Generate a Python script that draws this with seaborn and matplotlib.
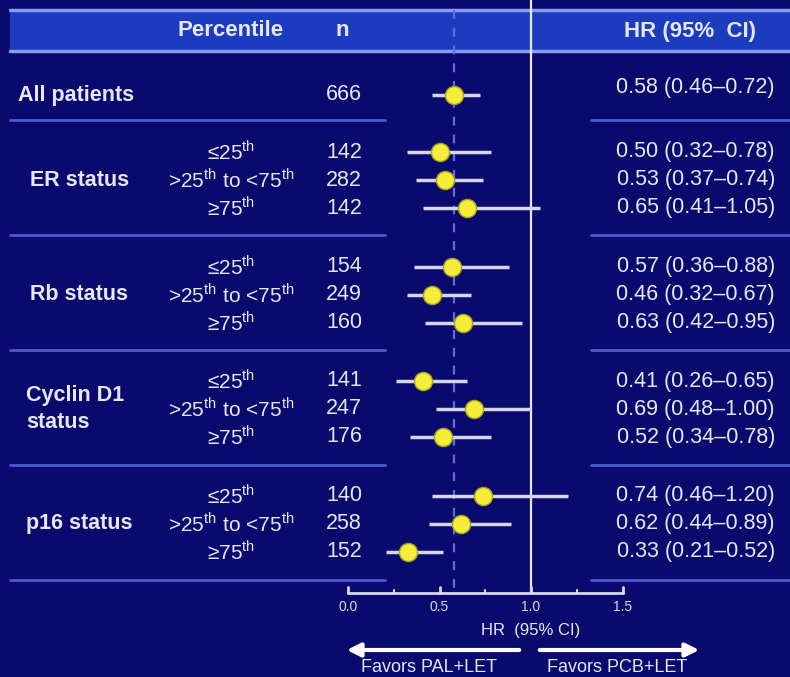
import pandas as pd
import matplotlib.pyplot as plt
import seaborn as sns
from matplotlib.transforms import blended_transform_factory

# data
groups = ["All patients", "ER status", "Rb status", "Cyclin D1\nstatus", "p16 status"]
percentiles = ["", "≤25", ">25 to <75", "≥75"]
n_vals = [666, 142, 282, 142, 154, 249, 160, 141, 247, 176, 140, 258, 152]
hr = [0.58, 0.50, 0.53, 0.65, 0.57, 0.46, 0.63, 0.41, 0.69, 0.52, 0.74, 0.62, 0.33]
lo = [0.46, 0.32, 0.37, 0.41, 0.36, 0.32, 0.42, 0.26, 0.48, 0.34, 0.46, 0.44, 0.21]
hi = [0.72, 0.78, 0.74, 1.05, 0.88, 0.67, 0.95, 0.65, 1.00, 0.78, 1.20, 0.89, 0.52]
ticks = [0.0, 0.5, 1.0, 1.5]
minor_ticks = [0.25, 0.75, 1.25]

W, H = 790, 677
BG = "#0a0a6e"
BAND = "#1c3cc0"
BAND_LINE = "#8a9cf0"
SEP = "#4a5ad0"
TXT = "#e6e8fa"

sns.set_theme(style="white")
plt.rcParams["font.family"] = ["Liberation Sans", "DejaVu Sans"]
plt.rcParams["mathtext.fontset"] = "custom"
plt.rcParams["mathtext.rm"] = "Liberation Sans"

# row layout (pixel-like y units, top = 0)
row_y = [95]
for g in range(4):
    base = 152 + g * 114.5
    row_y += [base, base + 28, base + 56]
sep_y = [120, 235, 350, 465, 580]
axis_y = 593

df = pd.DataFrame({"hr": hr, "lo": lo, "hi": hi, "n": n_vals, "y": row_y})

fig = plt.figure(figsize=(W / 100, H / 100), dpi=100)
fig.patch.set_facecolor(BG)
ax = fig.add_axes([0, 0, 1, 1])
ax.set_facecolor(BG)
# 0.0 -> 348 px, 1.5 -> 622 px
scale = 183.0
ax.set_xlim(-348 / scale, (W - 348) / scale)
ax.set_ylim(H, 0)
ax.axis("off")

def px(p):
    return (p - 348) / scale

tr = blended_transform_factory(ax.transAxes, ax.transData)

# header band
ax.axhspan(10, 51, xmin=10 / W, xmax=1, color=BAND, zorder=1)
ax.plot([px(10), px(W)], [10, 10], color=BAND_LINE, lw=2.5, zorder=2)
ax.plot([px(10), px(W)], [51, 51], color=BAND_LINE, lw=2.5, zorder=2)
ax.text(231 / W, 31, "Percentile", transform=tr, ha="center", va="center",
        color=TXT, fontsize=16, fontweight="bold", zorder=5)
ax.text(342 / W, 31, "n", transform=tr, ha="center", va="center",
        color=TXT, fontsize=16, fontweight="bold", zorder=5)
ax.text(690 / W, 31, "HR (95%  CI)", transform=tr, ha="center", va="center",
        color=TXT, fontsize=16, fontweight="bold", zorder=5)

# separators
for s in sep_y:
    ax.plot([px(10), px(385)], [s, s], color=SEP, lw=2, zorder=2)
    ax.plot([px(591), px(W)], [s, s], color=SEP, lw=2, zorder=2)

# reference lines
ax.plot([1.0, 1.0], [0, axis_y], color="#e8e8f4", lw=1.6, zorder=3)
ax.plot([hr[0], hr[0]], [10, axis_y], color="#5a6ee0", lw=1.6,
        linestyle=(0, (4, 4)), zorder=3)

# confidence intervals and points
ax.hlines(df["y"], df["lo"], df["hi"], color="#d4d6ec", lw=2.5, zorder=4)
sns.scatterplot(data=df, x="hr", y="y", ax=ax, color="#f4ee3a", s=170,
                edgecolor="#a8a020", linewidth=1, zorder=5, legend=False)
ax.set_xlabel("")
ax.set_ylabel("")

# left labels
group_y = [row_y[0], row_y[2], row_y[5], row_y[8], row_y[11]]
group_x = [18, 30, 30, 26, 26]
for name, gy, gx in zip(groups, group_y, group_x):
    ax.text(gx / W, gy, name, transform=tr, ha="left", va="center",
            color=TXT, fontsize=15.5, fontweight="bold", linespacing=1.35, zorder=5)

for i, y in enumerate(row_y):
    if i > 0:
        p = percentiles[(i - 1) % 3 + 1]
        if p.startswith(">"):
            lab = r">25$^{\rm th}$ to <75$^{\rm th}$"
        else:
            lab = p + r"$^{\rm th}$"
        ax.text(231 / W, y, lab, transform=tr, ha="center", va="center",
                color=TXT, fontsize=15, zorder=5)
    ax.text(362 / W, y, str(n_vals[i]), transform=tr, ha="right", va="center",
            color=TXT, fontsize=15.5, zorder=5)
    dy = -8 if i == 0 else 0
    ax.text(775 / W, y + dy, f"{hr[i]:.2f} ({lo[i]:.2f}\u2013{hi[i]:.2f})",
            transform=tr, ha="right", va="center", color=TXT, fontsize=15.5, zorder=5)

# x axis
ax.plot([ticks[0], ticks[-1]], [axis_y, axis_y], color="#d8dae8", lw=2, zorder=3)
for t in ticks:
    ax.plot([t, t], [axis_y, axis_y - 6], color="#d8dae8", lw=2, zorder=3)
    ax.text(t, axis_y + 14, f"{t:.1f}", ha="center", va="center",
            color="#d8dae8", fontsize=10, zorder=5)
for t in minor_ticks:
    ax.plot([t, t], [axis_y, axis_y - 3], color="#d8dae8", lw=1.5, zorder=3)
ax.text(1.0, 630, "HR  (95% CI)", ha="center", va="center", color=TXT,
        fontsize=12, zorder=5)

# favours arrows
ax.annotate("", xy=(px(344), 650), xytext=(px(522), 650),
            arrowprops=dict(arrowstyle="-|>", color="white", lw=3,
                            mutation_scale=20), zorder=5)
ax.annotate("", xy=(px(702), 650), xytext=(px(537), 650),
            arrowprops=dict(arrowstyle="-|>", color="white", lw=3,
                            mutation_scale=20), zorder=5)
ax.text(429 / W, 667, "Favors PAL+LET", transform=tr, ha="center", va="center",
        color=TXT, fontsize=13, zorder=5)
ax.text(617 / W, 667, "Favors PCB+LET", transform=tr, ha="center", va="center",
        color=TXT, fontsize=13, zorder=5)

fig.savefig("out.png", dpi=100, facecolor=BG)
